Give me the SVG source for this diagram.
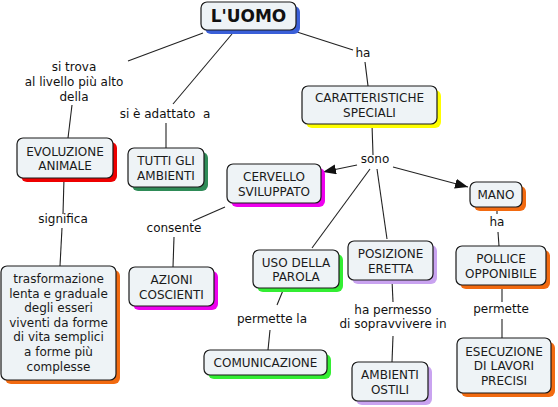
<svg xmlns="http://www.w3.org/2000/svg" width="558" height="407" viewBox="0 0 558 407">
<defs>
<style>
.box{fill:#eef3f6;stroke:#1a1a1a;stroke-width:1.2}
.t{font-family:"DejaVu Sans","Liberation Sans",sans-serif;font-size:12px;fill:#1a1a1a;text-anchor:middle}
.lbl{font-family:"DejaVu Sans","Liberation Sans",sans-serif;font-size:12px;fill:#111;text-anchor:middle}
.ln{stroke:#222;stroke-width:1.1;fill:none}
</style>
<marker id="arr" markerUnits="userSpaceOnUse" markerWidth="14" markerHeight="12" refX="13" refY="5" orient="auto">
<path d="M0,0 L13,5 L0,10 Z" fill="#111"/>
</marker>
</defs>
<rect width="558" height="407" fill="#fff"/>
<g id="connectors">
<line class="ln" x1="203" y1="33" x2="128" y2="61"/>
<line class="ln" x1="72" y1="105" x2="68" y2="138"/>
<line class="ln" x1="232" y1="34" x2="173" y2="104"/>
<line class="ln" x1="166" y1="123" x2="166" y2="148"/>
<line class="ln" x1="297" y1="32" x2="353" y2="50"/>
<line class="ln" x1="365" y1="62" x2="368" y2="86"/>
<line class="ln" x1="372" y1="124" x2="373" y2="155"/>
<line class="ln" x1="357" y1="165" x2="323" y2="172" marker-end="url(#arr)"/>
<line class="ln" x1="393" y1="167" x2="468" y2="187" marker-end="url(#arr)"/>
<line class="ln" x1="370" y1="169" x2="312" y2="248"/>
<line class="ln" x1="377" y1="169" x2="387" y2="239"/>
<line class="ln" x1="64" y1="178" x2="63" y2="214"/>
<line class="ln" x1="62" y1="228" x2="60" y2="266"/>
<line class="ln" x1="225" y1="207" x2="193" y2="221"/>
<line class="ln" x1="174" y1="237" x2="173" y2="267"/>
<line class="ln" x1="284" y1="288" x2="277" y2="305"/>
<line class="ln" x1="270" y1="330" x2="268" y2="350"/>
<line class="ln" x1="392" y1="280" x2="393" y2="302"/>
<line class="ln" x1="393" y1="336" x2="392" y2="362"/>
<line class="ln" x1="497" y1="207" x2="497" y2="214"/>
<line class="ln" x1="498" y1="232" x2="499" y2="246"/>
<line class="ln" x1="502" y1="285" x2="502" y2="302"/>
<line class="ln" x1="502" y1="319" x2="502" y2="338"/>
<text class="lbl" x="74" y="71">si trova</text>
<text class="lbl" x="74" y="86">al livello più alto</text>
<text class="lbl" x="74" y="101">della</text>
<text class="lbl" x="165" y="118">si è adattato&#160; a</text>
<text class="lbl" x="363" y="57">ha</text>
<text class="lbl" x="375" y="163">sono</text>
<text class="lbl" x="63" y="223">significa</text>
<text class="lbl" x="174" y="232">consente</text>
<text class="lbl" x="272" y="323">permette la</text>
<text class="lbl" x="393" y="314">ha permesso</text>
<text class="lbl" x="393" y="328">di sopravvivere in</text>
<text class="lbl" x="497" y="226">ha</text>
<text class="lbl" x="501" y="313">permette</text>
</g>
<g id="uomo">
<rect x="205" y="6" width="95" height="28" rx="6" fill="#3a5fd8"/>
<rect class="box" x="201" y="2" width="95" height="28" rx="6"/>
<text x="248.5" y="22" font-family="DejaVu Sans, sans-serif" font-size="17" font-weight="bold" fill="#111" text-anchor="middle">L'UOMO</text>
</g>
<g id="caratteristiche">
<rect x="306" y="90" width="135" height="38" rx="6" fill="#ffff00"/>
<rect class="box" x="302" y="86" width="135" height="38" rx="6"/>
<text class="t" x="369.5" y="102">CARATTERISTICHE</text>
<text class="t" x="369.5" y="116.5">SPECIALI</text>
</g>
<g id="evoluzione">
<rect x="21" y="142" width="96" height="40" rx="6" fill="#ee0000"/>
<rect class="box" x="17" y="138" width="96" height="40" rx="6"/>
<text class="t" x="65" y="155.5">EVOLUZIONE</text>
<text class="t" x="65" y="170">ANIMALE</text>
</g>
<g id="tutti">
<rect x="132" y="152" width="76" height="39" rx="6" fill="#2e8b57"/>
<rect class="box" x="128" y="148" width="76" height="39" rx="6"/>
<text class="t" x="166" y="165">TUTTI GLI</text>
<text class="t" x="166" y="179.5">AMBIENTI</text>
</g>
<g id="cervello">
<rect x="231" y="168" width="94" height="39" rx="6" fill="#ee00ee"/>
<rect class="box" x="227" y="164" width="94" height="39" rx="6"/>
<text class="t" x="274" y="181">CERVELLO</text>
<text class="t" x="274" y="195.5">SVILUPPATO</text>
</g>
<g id="mano">
<rect x="474" y="186" width="52" height="25" rx="6" fill="#f26a10"/>
<rect class="box" x="470" y="182" width="52" height="25" rx="6"/>
<text class="t" x="496" y="199">MANO</text>
</g>
<g id="trasformazione">
<rect x="5" y="270" width="115" height="114" rx="6" fill="#f26a10"/>
<rect class="box" x="1" y="266" width="115" height="114" rx="6"/>
<text class="t" x="58.5" y="283">trasformazione</text>
<text class="t" x="58.5" y="297.6">lenta e graduale</text>
<text class="t" x="58.5" y="312.2">degli esseri</text>
<text class="t" x="58.5" y="326.8">viventi da forme</text>
<text class="t" x="58.5" y="341.4">di vita semplici</text>
<text class="t" x="58.5" y="356">a forme più</text>
<text class="t" x="58.5" y="370.6">complesse</text>
</g>
<g id="azioni">
<rect x="133" y="271" width="85" height="39" rx="6" fill="#ee00ee"/>
<rect class="box" x="129" y="267" width="85" height="39" rx="6"/>
<text class="t" x="171.5" y="284">AZIONI</text>
<text class="t" x="171.5" y="298.5">COSCIENTI</text>
</g>
<g id="uso">
<rect x="257" y="254" width="86" height="38" rx="6" fill="#33ee33"/>
<rect class="box" x="253" y="250" width="86" height="38" rx="6"/>
<text class="t" x="296" y="266.5">USO DELLA</text>
<text class="t" x="296" y="281">PAROLA</text>
</g>
<g id="posizione">
<rect x="352" y="245" width="85" height="39" rx="6" fill="#c9a3f0"/>
<rect class="box" x="348" y="241" width="85" height="39" rx="6"/>
<text class="t" x="390.5" y="258">POSIZIONE</text>
<text class="t" x="390.5" y="272.5">ERETTA</text>
</g>
<g id="pollice">
<rect x="460" y="250" width="90" height="39" rx="6" fill="#f26a10"/>
<rect class="box" x="456" y="246" width="90" height="39" rx="6"/>
<text class="t" x="501" y="263">POLLICE</text>
<text class="t" x="501" y="277.5">OPPONIBILE</text>
</g>
<g id="comunicazione">
<rect x="208" y="354" width="123" height="25" rx="6" fill="#33ee33"/>
<rect class="box" x="204" y="350" width="123" height="25" rx="6"/>
<text class="t" x="265.5" y="367">COMUNICAZIONE</text>
</g>
<g id="ostili">
<rect x="356" y="366" width="76" height="39" rx="6" fill="#c9a3f0"/>
<rect class="box" x="352" y="362" width="76" height="39" rx="6"/>
<text class="t" x="390" y="379">AMBIENTI</text>
<text class="t" x="390" y="393.5">OSTILI</text>
</g>
<g id="esecuzione">
<rect x="461" y="342" width="94" height="55" rx="6" fill="#f26a10"/>
<rect class="box" x="457" y="338" width="94" height="55" rx="6"/>
<text class="t" x="504" y="355.5">ESECUZIONE</text>
<text class="t" x="504" y="370">DI LAVORI</text>
<text class="t" x="504" y="384.5">PRECISI</text>
</g>
</svg>
